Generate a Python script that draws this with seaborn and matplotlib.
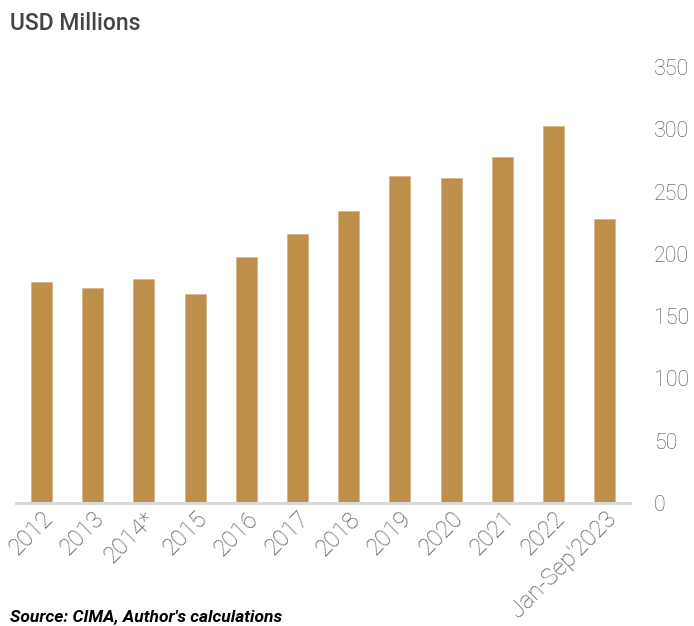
import numpy as np
import pandas as pd
import seaborn as sns
import matplotlib.pyplot as plt

years = ['2012', '2013', '2014*', '2015', '2016', '2017', '2018',
         '2019', '2020', '2021', '2022', "Jan-Sep'2023"]
values = [177.6, 172.5, 179.5, 167.7, 197.7, 215.9, 234.1,
          262.4, 260.8, 277.7, 302.6, 227.9]
y_ticks = [0, 50, 100, 150, 200, 250, 300, 350]

bar_color = '#BD8F4A'
text_color = '#505050'

def main():
    sns.set_style('white')
    plt.rcParams['font.family'] = ['Roboto', 'DejaVu Sans']

    df = pd.DataFrame({'year': years, 'value': values})

    fig = plt.figure(figsize=(6.94, 6.26), dpi=100)
    ax = fig.add_axes([0.023, 0.1965, 0.885, 0.6965])
    sns.barplot(data=df, x='year', y='value', color=bar_color, width=0.41,
                saturation=1, edgecolor='#D9B88A', linewidth=0.6, ax=ax)

    ax.set_xlim(-0.5, 11.5)
    ax.set_ylim(0, 350)
    ax.yaxis.tick_right()
    ax.set_yticks(y_ticks)
    ax.set_yticklabels([str(t) for t in y_ticks], fontsize=15.5,
                       color=text_color, fontweight='light')
    ax.tick_params(axis='y', length=0, pad=17)
    ax.tick_params(axis='x', length=0, pad=3)
    ax.set_xticks(range(len(years)))
    ax.set_xticklabels(years, rotation=45, ha='right', rotation_mode='anchor',
                       fontsize=17, color=text_color, fontweight='light')
    ax.set_xlabel('')
    ax.set_ylabel('')
    for s in ['top', 'left', 'right']:
        ax.spines[s].set_visible(False)
    ax.spines['bottom'].set_color('#D9D9D9')
    ax.spines['bottom'].set_linewidth(2.2)

    fig.text(0.014, 0.962, 'USD Millions', fontsize=16.5, color='#444444',
             fontweight='medium', va='center')
    fig.text(0.014, 0.003, "Source: CIMA, Author's calculations", fontsize=12.5,
             color='black', fontweight='bold', fontstyle='italic', va='bottom')

    plt.savefig('out.png', dpi=100)
    plt.close()


if __name__ == "__main__":
    main()
